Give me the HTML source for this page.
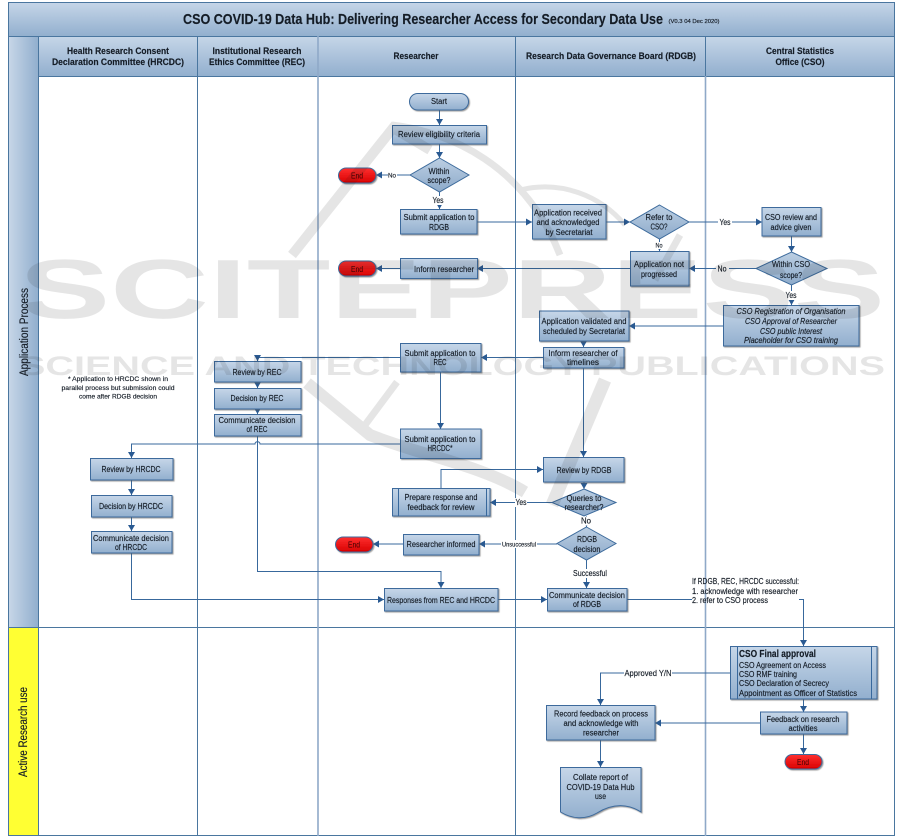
<!DOCTYPE html>
<html><head><meta charset="utf-8"><title>CSO COVID-19 Data Hub</title>
<style>
html,body{margin:0;padding:0;background:#fff;width:901px;height:839px;overflow:hidden}
svg{display:block;filter:blur(.35px)}
text{font-family:"Liberation Sans",sans-serif;font-size:8px;fill:#141c26;text-anchor:middle;stroke:#141c26;stroke-width:.15}
.h{font-weight:bold;font-size:9px}
.l{text-anchor:start}
.s{font-size:6px}
.i{font-style:italic}
.b{fill:url(#g);stroke:#3d6b9c;stroke-width:1;filter:url(#sh)}
.d{fill:url(#g2);stroke:#3d6b9c;stroke-width:1}
.r{fill:url(#gr);stroke:#3d6b9c;stroke-width:1;filter:url(#sh)}
.c{fill:none;stroke:#38689c;stroke-width:1;marker-end:url(#a)}
.n{fill:none;stroke:#38689c;stroke-width:1}
.t{fill:#fff}
.w{stroke:none;font-weight:bold;fill:#222}
</style></head><body>
<svg xmlns="http://www.w3.org/2000/svg" width="901" height="839" viewBox="0 0 901 839">
<defs>
<linearGradient id="g" x1="0" y1="0" x2="0" y2="1"><stop offset="0" stop-color="#c6d6e8"/><stop offset="1" stop-color="#92afce"/></linearGradient>
<linearGradient id="g2" x1="0" y1="0" x2="0" y2="1"><stop offset="0" stop-color="#bccfe3"/><stop offset="1" stop-color="#8daaca"/></linearGradient>
<linearGradient id="gh" x1="0" y1="0" x2="1" y2="0"><stop offset="0" stop-color="#c8d7e8"/><stop offset="1" stop-color="#92afce"/></linearGradient>
<linearGradient id="gr" x1="0" y1="0" x2="0" y2="1"><stop offset="0" stop-color="#ff3030"/><stop offset="1" stop-color="#d80000"/></linearGradient>
<filter id="sh" x="-10%" y="-10%" width="120%" height="130%"><feDropShadow dx="1" dy="1" stdDeviation=".6" flood-color="#555" flood-opacity=".6"/></filter>
<marker id="a" markerUnits="userSpaceOnUse" markerWidth="8" markerHeight="8" refX="6" refY="3.5" orient="auto"><path d="M0 0L6 3.5L0 7Z" fill="#2a5a92"/></marker>
</defs>
<rect x="8" y="2" width="887" height="834" fill="#fff"/>
<rect x="8" y="2" width="887" height="34" fill="url(#g)"/>
<rect x="38" y="36" width="857" height="40" fill="url(#g)"/>
<rect x="8" y="36" width="30" height="591" fill="url(#gh)"/>
<rect x="8" y="627" width="30" height="209" fill="#ffff33"/>
<path d="M8.5 2.5H894.5V835.5H8.5Z M8 36.5H895 M38 76.5H895 M8 627.5H895 M38.5 36V836 M197.5 36V836 M515.5 36V836 M705.5 36V76" fill="none" stroke="#4a769f" stroke-width="1"/>
<path d="M318 36V836 M705.5 76V836" fill="none" stroke="#8fa9c8" stroke-width="1.6"/>

<text x="423" y="24" style="font-size:15px;font-weight:bold" textLength="480" lengthAdjust="spacingAndGlyphs">CSO COVID-19 Data Hub: Delivering Researcher Access for Secondary Data Use</text>
<text x="694" y="23" style="font-size:5px" textLength="51" lengthAdjust="spacingAndGlyphs">(V0.3 04 Dec 2020)</text>
<text class="h" x="118" y="54" textLength="102" lengthAdjust="spacingAndGlyphs">Health Research Consent</text>
<text class="h" x="118" y="65" textLength="132" lengthAdjust="spacingAndGlyphs">Declaration Committee (HRCDC)</text>
<text class="h" x="257" y="54" textLength="89" lengthAdjust="spacingAndGlyphs">Institutional Research</text>
<text class="h" x="257" y="65" textLength="96" lengthAdjust="spacingAndGlyphs">Ethics Committee (REC)</text>
<text class="h" x="416" y="59" textLength="45" lengthAdjust="spacingAndGlyphs">Researcher</text>
<text class="h" x="611" y="59" textLength="170" lengthAdjust="spacingAndGlyphs">Research Data Governance Board (RDGB)</text>
<text class="h" x="800" y="54" textLength="68" lengthAdjust="spacingAndGlyphs">Central Statistics</text>
<text class="h" x="800" y="65" textLength="49" lengthAdjust="spacingAndGlyphs">Office (CSO)</text>
<text transform="translate(28,332) rotate(-90)" style="font-size:11.5px" textLength="88" lengthAdjust="spacingAndGlyphs">Application Process</text>
<text transform="translate(27,732) rotate(-90)" style="font-size:11.5px" textLength="90" lengthAdjust="spacingAndGlyphs">Active Research use</text>

<!-- connectors -->
<path class="c" d="M439.5 110V125"/>
<path class="c" d="M439.5 144V158"/>
<path class="c" d="M410 175H376"/>
<path class="c" d="M439.5 192V209"/>
<path class="c" d="M477 222H532"/>
<path class="c" d="M606 222H630"/>
<path class="c" d="M689 222H762"/>
<path class="c" d="M659.5 239V251"/>
<path class="c" d="M791.5 236V252"/>
<path class="c" d="M756 268.5H689"/>
<path class="c" d="M630 268.5H477"/>
<path class="c" d="M400 268.5H376"/>
<path class="c" d="M791.5 285V305"/>
<path class="c" d="M723 326H629"/>
<path class="c" d="M583.5 341V347"/>
<path class="c" d="M543 357.5H481"/>
<path class="c" d="M400 357.5H257.5V361"/>
<path class="c" d="M257.5 382V388"/>
<path class="c" d="M257.5 409V414"/>
<path class="c" d="M440.5 372V429"/>
<path class="c" d="M400 444H260C260 441 255 441 255 444H131.5V458"/>
<path class="c" d="M257.5 436V571.5H441V588"/>
<path class="c" d="M131.5 480V495"/>
<path class="c" d="M131.5 517V531"/>
<path class="c" d="M131.5 553V599.5H384"/>
<path class="c" d="M583.5 368V457"/>
<path class="c" d="M441 488V469.5H543"/>
<path class="c" d="M584 482V489"/>
<path class="c" d="M552 502.5H490"/>
<path class="c" d="M586.5 516V527"/>
<path class="c" d="M557 544H479"/>
<path class="c" d="M403 544H373"/>
<path class="c" d="M586.5 560V588"/>
<path class="c" d="M498 599.5H547"/>
<path class="n" d="M627 599.5H692"/>
<path class="c" d="M799 599.5H803.5V646"/>
<path class="c" d="M730 673H600.5V705"/>
<path class="c" d="M803.5 699V712"/>
<path class="c" d="M760 723H655"/>
<path class="c" d="M803.5 734V754"/>
<path class="c" d="M600.5 740V767"/>

<!-- nodes -->
<rect class="b" x="409.5" y="93.5" width="59" height="16.5" rx="8.2"/>
<rect class="b" x="392.5" y="125.5" width="94" height="18.5"/>
<polygon class="d" points="439.5,158 469,175 439.5,192 410,175"/>
<rect class="r" x="338.5" y="168" width="37.5" height="15" rx="7.5"/>
<rect class="b" x="400.5" y="209.5" width="76.5" height="24.5"/>
<rect class="r" x="338.5" y="261" width="37.5" height="15" rx="7.5"/>
<rect class="b" x="400.5" y="258.5" width="77" height="20"/>
<rect class="b" x="532.5" y="204.5" width="73.5" height="34.5"/>
<polygon class="d" points="659.5,205 689,222 659.5,239 630,222"/>
<rect class="b" x="762" y="207.5" width="59" height="28.5"/>
<polygon class="d" points="791.5,252 827,268.5 791.5,285 756,268.5"/>
<rect class="b" x="630.5" y="251.5" width="58.5" height="34.5"/>
<rect class="b" x="723.5" y="305.5" width="135.5" height="40.5"/>
<rect class="b" x="539.5" y="311" width="89.5" height="30"/>
<rect class="b" x="543.5" y="347.5" width="80.5" height="20.5"/>
<rect class="b" x="400.5" y="343.5" width="80.5" height="28.5"/>
<rect class="b" x="400.5" y="429" width="80.5" height="29.5"/>
<rect class="b" x="214.5" y="361.5" width="86.5" height="20.5"/>
<rect class="b" x="214.5" y="388.5" width="86.5" height="20.5"/>
<rect class="b" x="214.5" y="414.5" width="86.5" height="21.5"/>
<rect class="b" x="90.5" y="458.5" width="82.5" height="21.5"/>
<rect class="b" x="91.5" y="495.5" width="80.5" height="21.5"/>
<rect class="b" x="91.5" y="531.5" width="80.5" height="21.5"/>
<rect class="b" x="543.5" y="457.5" width="80.5" height="24.5"/>
<polygon class="d" points="584,489 616,502.5 584,516 552,502.5"/>
<rect class="b" x="392.5" y="488.5" width="97.5" height="27.5"/>
<path class="n" d="M398.5 488.5V516M486.5 488.5V516"/>
<polygon class="d" points="586.5,527 616,543.5 586.5,560 557,543.5"/>
<rect class="b" x="403.5" y="534.5" width="75.5" height="20.5"/>
<rect class="r" x="335.5" y="537" width="37.5" height="15" rx="7.5"/>
<rect class="b" x="384.5" y="588.5" width="113.5" height="22.5"/>
<rect class="b" x="547.5" y="588.5" width="79.5" height="22.5"/>
<rect class="b" x="730.5" y="646.5" width="146.5" height="52.5"/>
<path class="n" d="M737.5 646.5V699M871.5 646.5V699"/>
<rect class="b" x="760.5" y="712" width="86.5" height="22"/>
<rect class="r" x="785" y="754.5" width="37" height="14.5" rx="7.2"/>
<rect class="b" x="546.5" y="705.5" width="108.5" height="34.5"/>
<path class="b" d="M560.5 767.5H641V812C625 802 610 805 597 813C585 820 572 819 560.5 812Z"/>

<!-- labels on lines (white knockouts) -->
<rect class="t" x="388" y="171" width="9" height="8"/>
<rect class="t" x="433" y="196" width="13" height="9"/>
<rect class="t" x="718" y="218" width="14" height="9"/>
<rect class="t" x="655" y="242" width="9" height="7"/>
<rect class="t" x="716" y="264" width="13" height="9"/>
<rect class="t" x="785" y="291" width="13" height="9"/>
<rect class="t" x="515" y="498" width="12" height="9"/>
<rect class="t" x="580" y="516.5" width="13" height="9"/>
<rect class="t" x="501" y="540" width="36" height="8"/>
<rect class="t" x="572" y="569" width="36" height="9"/>
<rect class="t" x="624" y="669" width="48" height="9"/>

<!-- node text -->
<text x="439" y="104" textLength="16" lengthAdjust="spacingAndGlyphs">Start</text>
<text x="439" y="137" textLength="82" lengthAdjust="spacingAndGlyphs">Review eligibility criteria</text>
<text x="439" y="174" textLength="21" lengthAdjust="spacingAndGlyphs">Within</text>
<text x="439" y="183" textLength="23" lengthAdjust="spacingAndGlyphs">scope?</text>
<text x="357" y="178.5" style="fill:#3a0000;stroke:none" textLength="12" lengthAdjust="spacingAndGlyphs">End</text>
<text class="s" x="392" y="177.5" textLength="8" lengthAdjust="spacingAndGlyphs">No</text>
<text x="438" y="203" textLength="11" lengthAdjust="spacingAndGlyphs">Yes</text>
<text x="439" y="220" textLength="71" lengthAdjust="spacingAndGlyphs">Submit application to</text>
<text x="439" y="230" textLength="20" lengthAdjust="spacingAndGlyphs">RDGB</text>
<text x="357" y="272" style="fill:#3a0000;stroke:none" textLength="12" lengthAdjust="spacingAndGlyphs">End</text>
<text x="444" y="272" textLength="60" lengthAdjust="spacingAndGlyphs">Inform researcher</text>
<text x="568" y="215.5" textLength="68" lengthAdjust="spacingAndGlyphs">Application received</text>
<text x="568" y="225" textLength="63" lengthAdjust="spacingAndGlyphs">and acknowledged</text>
<text x="569" y="235" textLength="47" lengthAdjust="spacingAndGlyphs">by Secretariat</text>
<text x="659" y="220" textLength="27" lengthAdjust="spacingAndGlyphs">Refer to</text>
<text x="659" y="229.5" textLength="17" lengthAdjust="spacingAndGlyphs">CSO?</text>
<text x="725" y="225" textLength="11" lengthAdjust="spacingAndGlyphs">Yes</text>
<text x="791" y="220" textLength="52" lengthAdjust="spacingAndGlyphs">CSO review and</text>
<text x="791" y="230" textLength="41" lengthAdjust="spacingAndGlyphs">advice given</text>
<text class="s" x="659" y="247.5" textLength="7" lengthAdjust="spacingAndGlyphs">No</text>
<text x="791" y="267" textLength="38" lengthAdjust="spacingAndGlyphs">Within CSO</text>
<text x="791" y="278" textLength="22" lengthAdjust="spacingAndGlyphs">scope?</text>
<text x="722" y="271.5" textLength="9" lengthAdjust="spacingAndGlyphs">No</text>
<text x="659" y="267" textLength="50" lengthAdjust="spacingAndGlyphs">Application not</text>
<text x="659" y="277" textLength="36" lengthAdjust="spacingAndGlyphs">progressed</text>
<text x="791" y="298" textLength="11" lengthAdjust="spacingAndGlyphs">Yes</text>
<text class="i" x="791" y="314" textLength="109" lengthAdjust="spacingAndGlyphs">CSO Registration of Organisation</text>
<text class="i" x="791" y="324" textLength="92" lengthAdjust="spacingAndGlyphs">CSO Approval of Researcher</text>
<text class="i" x="791" y="334" textLength="62" lengthAdjust="spacingAndGlyphs">CSO public Interest</text>
<text class="i" x="791" y="343" textLength="94" lengthAdjust="spacingAndGlyphs">Placeholder for CSO training</text>
<text x="584" y="324" textLength="85" lengthAdjust="spacingAndGlyphs">Application validated and</text>
<text x="584" y="334" textLength="82" lengthAdjust="spacingAndGlyphs">scheduled by Secretariat</text>
<text x="583" y="356" textLength="69" lengthAdjust="spacingAndGlyphs">Inform researcher of</text>
<text x="583" y="365" textLength="32" lengthAdjust="spacingAndGlyphs">timelines</text>
<text x="440" y="356" textLength="71" lengthAdjust="spacingAndGlyphs">Submit application to</text>
<text x="440" y="365" textLength="13" lengthAdjust="spacingAndGlyphs">REC</text>
<text x="257" y="375" textLength="49" lengthAdjust="spacingAndGlyphs">Review by REC</text>
<text x="257" y="401" textLength="53" lengthAdjust="spacingAndGlyphs">Decision by REC</text>
<text x="257" y="423" textLength="77" lengthAdjust="spacingAndGlyphs">Communicate decision</text>
<text x="257" y="432" textLength="21" lengthAdjust="spacingAndGlyphs">of REC</text>
<text x="440" y="442" textLength="71" lengthAdjust="spacingAndGlyphs">Submit application to</text>
<text x="440" y="451" textLength="25" lengthAdjust="spacingAndGlyphs">HRCDC*</text>
<text x="131" y="472" textLength="59" lengthAdjust="spacingAndGlyphs">Review by HRCDC</text>
<text x="131" y="509" textLength="64" lengthAdjust="spacingAndGlyphs">Decision by HRCDC</text>
<text x="131" y="541" textLength="76" lengthAdjust="spacingAndGlyphs">Communicate decision</text>
<text x="131" y="550" textLength="32" lengthAdjust="spacingAndGlyphs">of HRCDC</text>
<text x="118" y="381" style="font-size:6.5px" textLength="100" lengthAdjust="spacingAndGlyphs">* Application to HRCDC shown in</text>
<text x="118" y="390" style="font-size:6.5px" textLength="113" lengthAdjust="spacingAndGlyphs">parallel process but submission could</text>
<text x="118" y="398.5" style="font-size:6.5px" textLength="78" lengthAdjust="spacingAndGlyphs">come after RDGB decision</text>
<text x="584" y="473" textLength="55" lengthAdjust="spacingAndGlyphs">Review by RDGB</text>
<text x="584" y="501" textLength="35" lengthAdjust="spacingAndGlyphs">Queries to</text>
<text x="584" y="510" textLength="39" lengthAdjust="spacingAndGlyphs">researcher?</text>
<text x="441" y="500" textLength="73" lengthAdjust="spacingAndGlyphs">Prepare response and</text>
<text x="441" y="510" textLength="67" lengthAdjust="spacingAndGlyphs">feedback for review</text>
<text x="521" y="505" textLength="11" lengthAdjust="spacingAndGlyphs">Yes</text>
<text x="586" y="523.5" textLength="10" lengthAdjust="spacingAndGlyphs">No</text>
<text x="587" y="542" textLength="20" lengthAdjust="spacingAndGlyphs">RDGB</text>
<text x="587" y="552" textLength="27" lengthAdjust="spacingAndGlyphs">decision</text>
<text class="s" x="519" y="546.5" textLength="34" lengthAdjust="spacingAndGlyphs">Unsuccessful</text>
<text x="441" y="547" textLength="69" lengthAdjust="spacingAndGlyphs">Researcher informed</text>
<text x="354" y="547.5" style="fill:#3a0000;stroke:none" textLength="12" lengthAdjust="spacingAndGlyphs">End</text>
<text x="590" y="576" textLength="34" lengthAdjust="spacingAndGlyphs">Successful</text>
<text x="441" y="603" textLength="108" lengthAdjust="spacingAndGlyphs">Responses from REC and HRCDC</text>
<text x="587" y="598" textLength="76" lengthAdjust="spacingAndGlyphs">Communicate decision</text>
<text x="587" y="607" textLength="28" lengthAdjust="spacingAndGlyphs">of RDGB</text>
<text class="l" x="692" y="584" textLength="107" lengthAdjust="spacingAndGlyphs">If RDGB, REC, HRCDC successful:</text>
<text class="l" x="692" y="594" textLength="106" lengthAdjust="spacingAndGlyphs">1. acknowledge with researcher</text>
<text class="l" x="692" y="603" textLength="76" lengthAdjust="spacingAndGlyphs">2. refer to CSO process</text>
<text class="l" x="739" y="657" style="font-size:10px;font-weight:bold" textLength="77" lengthAdjust="spacingAndGlyphs">CSO Final approval</text>
<text class="l" x="739" y="668" textLength="87" lengthAdjust="spacingAndGlyphs">CSO Agreement on Access</text>
<text class="l" x="739" y="677" textLength="58" lengthAdjust="spacingAndGlyphs">CSO RMF training</text>
<text class="l" x="739" y="686" textLength="90" lengthAdjust="spacingAndGlyphs">CSO Declaration of Secrecy</text>
<text class="l" x="739" y="696" textLength="118" lengthAdjust="spacingAndGlyphs">Appointment as Officer of Statistics</text>
<text x="648" y="676" textLength="47" lengthAdjust="spacingAndGlyphs">Approved Y/N</text>
<text x="803" y="722" textLength="73" lengthAdjust="spacingAndGlyphs">Feedback on research</text>
<text x="803" y="731" textLength="29" lengthAdjust="spacingAndGlyphs">activities</text>
<text x="803" y="765" style="fill:#3a0000;stroke:none" textLength="12" lengthAdjust="spacingAndGlyphs">End</text>
<text x="601" y="716.5" textLength="94" lengthAdjust="spacingAndGlyphs">Record feedback on process</text>
<text x="601" y="726" textLength="75" lengthAdjust="spacingAndGlyphs">and acknowledge with</text>
<text x="601" y="735.5" textLength="36" lengthAdjust="spacingAndGlyphs">researcher</text>
<text x="600.5" y="780" textLength="55" lengthAdjust="spacingAndGlyphs">Collate report of</text>
<text x="600.5" y="790" textLength="68" lengthAdjust="spacingAndGlyphs">COVID-19 Data Hub</text>
<text x="600.5" y="799" textLength="11" lengthAdjust="spacingAndGlyphs">use</text>

<!-- watermark -->
<g opacity=".11">
<text class="w" x="452" y="318" style="font-size:84px" textLength="866" lengthAdjust="spacingAndGlyphs">SCITEPRESS</text>
<text class="w" x="452" y="375" style="font-size:27px" textLength="866" lengthAdjust="spacingAndGlyphs">SCIENCE AND TECHNOLOGY PUBLICATIONS</text>
<g fill="none" stroke="#222">
<path d="M292 255L393 128L430 150" stroke-width="10"/>
<path d="M392 125C450 132 525 165 560 255" stroke-width="7"/>
<path d="M520 190C560 180 600 195 625 225" stroke-width="5"/>
<path d="M307 383L370 435C420 455 480 465 525 492" stroke-width="12"/>
<path d="M365 425L397 382" stroke-width="7"/>
<path d="M605 380L552 505" stroke-width="13"/>
<path d="M680 235L655 280" stroke-width="7"/>
</g>
</g>
</svg>
</body></html>
